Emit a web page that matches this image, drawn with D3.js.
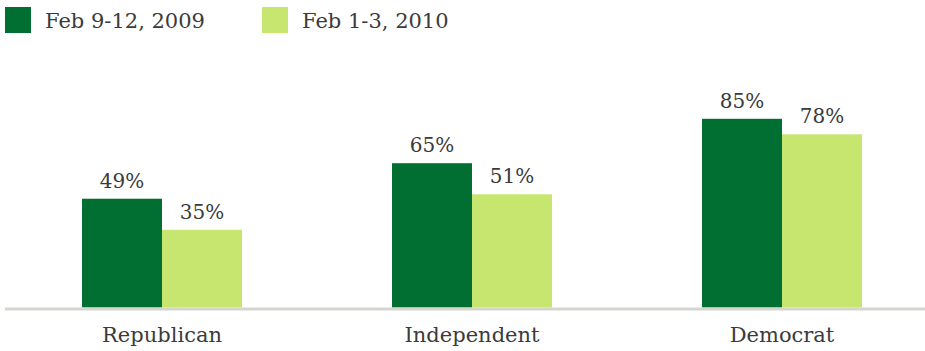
<!DOCTYPE html>
<html>
<head>
<meta charset="utf-8">
<script src="https://cdn.jsdelivr.net/npm/d3@7"></script>
<style>
  html, body { margin: 0; padding: 0; background: #fff; }
  svg { display: block; }
  text { font-family: "DejaVu Serif", "Liberation Serif", serif; fill: #3b3b3b; }
</style>
</head>
<body>
<svg id="chart" width="925" height="351"></svg>
<script>
// Party groups and the two survey waves
const categories = ["Republican", "Independent", "Democrat"];
const seriesNames = ["Feb 9-12, 2009", "Feb 1-3, 2010"];
const values2009 = [49, 65, 85];
const values2010 = [35, 51, 78];
const seriesColors = ["#006f31", "#c6e670"];

const svg = d3.select("#chart");
const W = 925, H = 351;

const rows = categories.map((c, i) => ({
  category: c,
  items: [
    { series: seriesNames[0], value: values2009[i] },
    { series: seriesNames[1], value: values2010[i] }
  ]
}));

const baseY = 307.5;
const y = d3.scaleLinear().domain([0, 100]).range([baseY, baseY - 222]);
const x0 = d3.scaleBand().domain(categories).range([82, 862]).paddingInner(150 / 310).paddingOuter(0);
const x1 = d3.scaleBand().domain(seriesNames).range([0, x0.bandwidth()]);
const color = d3.scaleOrdinal().domain(seriesNames).range(seriesColors);

// Legend
const legend = svg.append("g").selectAll("g")
  .data(seriesNames).join("g")
  .attr("transform", (d, i) => `translate(${[5, 262][i]},7)`);
legend.append("rect").attr("width", 26).attr("height", 26).attr("fill", d => color(d));
legend.append("text").attr("x", 40).attr("y", 21).attr("font-size", 21).text(d => d);

// Bars
const groups = svg.append("g").selectAll("g")
  .data(rows).join("g")
  .attr("transform", d => `translate(${x0(d.category)},0)`);

groups.selectAll("rect")
  .data(d => d.items).join("rect")
  .attr("x", d => x1(d.series))
  .attr("y", d => y(d.value))
  .attr("width", x1.bandwidth())
  .attr("height", d => y(0) - y(d.value))
  .attr("fill", d => color(d.series));

groups.selectAll("text.val")
  .data(d => d.items).join("text")
  .attr("class", "val")
  .attr("x", d => x1(d.series) + x1.bandwidth() / 2)
  .attr("y", d => y(d.value) - 11)
  .attr("text-anchor", "middle")
  .attr("font-size", 20)
  .text(d => d.value + "%");

// Baseline
svg.append("rect").attr("x", 5).attr("y", baseY).attr("width", W - 5).attr("height", 3).attr("fill", "#d5d5cf");

// Category axis
const axis = svg.append("g")
  .attr("transform", `translate(0,${baseY + 3})`)
  .call(d3.axisBottom(x0).tickSize(0).tickPadding(17));
axis.select(".domain").remove();
axis.selectAll("text")
  .attr("font-size", 21)
  .attr("font-family", "DejaVu Serif, Liberation Serif, serif")
  .attr("fill", "#3b3b3b");
</script>
</body>
</html>
